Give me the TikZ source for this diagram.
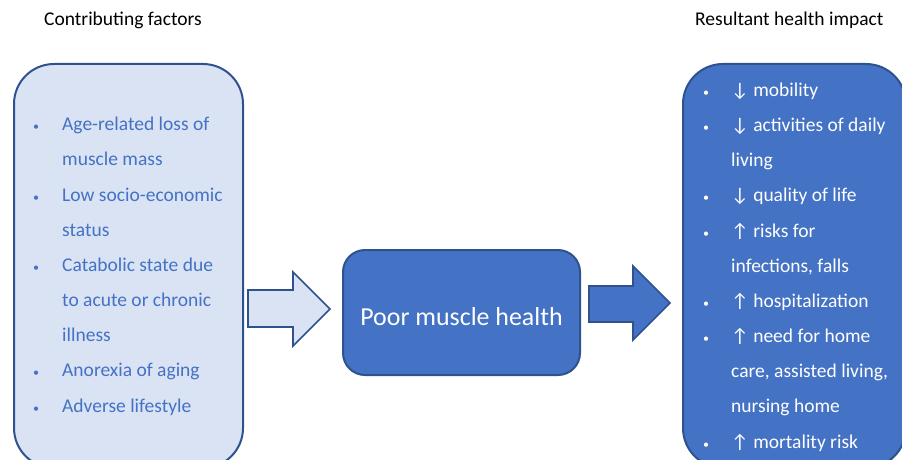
\documentclass[tikz,border=0pt]{standalone}
\usepackage{fontspec}
\setmainfont{Carlito}
\usetikzlibrary{positioning}

\definecolor{boxfill}{HTML}{DAE3F3}
\definecolor{boxblue}{HTML}{4472C4}
\definecolor{boxline}{HTML}{2F528F}

\newcommand{\lbul}{\makebox[29pt][l]{\fontsize{12}{12}\selectfont\textbullet}}
\newcommand{\lind}{\hspace*{29pt}}
\newcommand{\rbul}{\makebox[28pt][l]{\fontsize{12}{12}\selectfont\textbullet}}
\newcommand{\rind}{\hspace*{28pt}}

\begin{document}
\begin{tikzpicture}[
  x=1pt, y=-1pt,
  every node/.style={font=\fontsize{19.5}{35.15}\selectfont, inner sep=0pt},
  factorbox/.style={draw=boxline, line width=2pt, fill=boxfill, rounded corners=40pt},
  impactbox/.style={draw=boxline, line width=2pt, fill=boxblue, rounded corners=40pt},
  corebox/.style={draw=boxline, line width=2pt, fill=boxblue, rounded corners=22pt,
    text=white, font=\fontsize{25.9}{30}\selectfont, text height=25pt, text depth=0pt},
  listtext/.style={anchor=base west, align=left},
  blockarrow/.style={draw=boxline, line width=1.6pt, line join=miter}
]

\useasboundingbox (0,0) rectangle (902,460);
\clip (0,0) rectangle (902,460);

%% ── headings ─────────────────────────────────────────────────────────────────
\node[anchor=west] (causehead) at (44,20) {Contributing factors};
\node[anchor=west] (impacthead) at (695,20) {Resultant health impact};

%% ── boxes ────────────────────────────────────────────────────────────────────
\node[factorbox, minimum width=229pt, minimum height=404pt] (factors) at (128.5,266) {};
\node[impactbox, minimum width=223pt, minimum height=404pt] (impacts) at (794.5,266) {};
\node[corebox, minimum width=237pt, minimum height=125pt] (core) at (461.5,312.5)
  {Poor muscle health};

%% ── block arrows ─────────────────────────────────────────────────────────────
\draw[blockarrow, fill=boxfill]
  (248,290) -- (293,290) -- (293,272) -- (330,309)
  -- (293,346) -- (293,327) -- (248,327) -- cycle;
\draw[blockarrow, fill=boxblue]
  (589,286) -- (633,286) -- (633,266) -- (670,303)
  -- (633,340) -- (633,322) -- (589,322) -- cycle;

%% ── lists (anchored at the baseline of the last line) ───────────────────────
\node[listtext, text=boxblue] (factorlist) at (33,412)
  {\lbul Age-related loss of\\
   \lind muscle mass\\
   \lbul Low socio-economic\\
   \lind status\\
   \lbul Catabolic state due\\
   \lind to acute or chronic\\
   \lind illness\\
   \lbul Anorexia of aging\\
   \lbul Adverse lifestyle};

\node[listtext, text=white] (impactlist) at (703,448)
  {\rbul ↓ mobility\\
   \rbul ↓ activities of daily\\
   \rind living\\
   \rbul ↓ quality of life\\
   \rbul ↑ risks for\\
   \rind infections, falls\\
   \rbul ↑ hospitalization\\
   \rbul ↑ need for home\\
   \rind care, assisted living,\\
   \rind nursing home\\
   \rbul ↑ mortality risk};

\end{tikzpicture}
\end{document}
